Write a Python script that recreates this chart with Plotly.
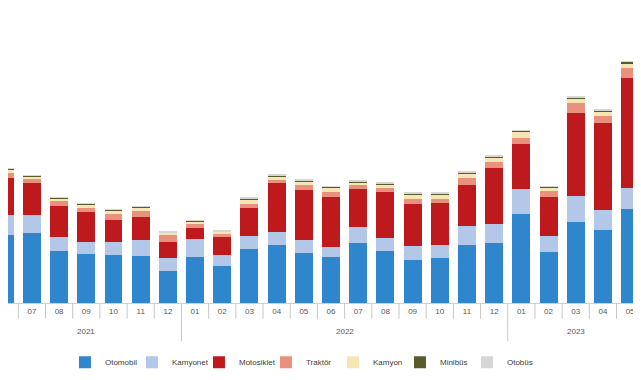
import plotly.graph_objects as go

years = ["2021"] * 7 + ["2022"] * 12 + ["2023"] * 5
months = ["06", "07", "08", "09", "10", "11", "12",
          "01", "02", "03", "04", "05", "06", "07", "08", "09", "10", "11", "12",
          "01", "02", "03", "04", "05"]

otomobil = [36400, 37500, 27800, 26200, 25700, 25100, 17100, 24600, 19800, 28900, 31000, 26800,
            24600, 32100, 27800, 23000, 24100, 31000, 32100, 47600, 27300, 43300, 39100, 50300]
kamyonet = [10700, 9600, 7500, 6400, 7000, 8600, 7000, 9600, 5900, 7000, 7000, 7000,
            5400, 8600, 7000, 7500, 7000, 10200, 10200, 13400, 8600, 13900, 10700, 11200]
motosiklet = [19800, 17100, 16600, 16100, 11800, 12300, 8600, 5900, 9600, 15000, 26200, 26800,
              26800, 20300, 24600, 22500, 22500, 21900, 30000, 24100, 20900, 44400, 46500, 58900]
traktor = [2700, 2100, 2700, 2100, 3200, 3200, 3700, 2100, 1600, 2100, 1600, 2700,
           2700, 2100, 2100, 2700, 2100, 3700, 3200, 3200, 3200, 5400, 3700, 5400]
kamyon = [1800, 1300, 1300, 1800, 1800, 1800, 1100, 1600, 1100, 2500, 2100, 1800,
          2200, 1600, 2100, 2500, 2500, 2500, 2500, 3200, 1800, 2500, 2500, 2500]
minibus = [500, 450, 420, 400, 380, 420, 380, 300, 350, 450, 500, 480,
           470, 480, 520, 470, 460, 520, 600, 550, 480, 620, 600, 650]
otobus = [300, 280, 260, 250, 240, 280, 250, 200, 220, 260, 300, 290,
          300, 310, 320, 290, 280, 330, 380, 350, 300, 400, 380, 420]

series = [
    ("Otomobil", otomobil, "#2f86cc"),
    ("Kamyonet", kamyonet, "#b3c8e8"),
    ("Motosiklet", motosiklet, "#be1a1d"),
    ("Traktör", traktor, "#e9917c"),
    ("Kamyon", kamyon, "#f6e6b4"),
    ("Minibüs", minibus, "#5a5b2c"),
    ("Otobüs", otobus, "#d6d6d6"),
]

keys = [f"{m}/{y}" for m, y in zip(months, years)]
x_start = 0.12  # first month (06/2021) is cut off at the left edge, as in the reference

fig = go.Figure()
for name, vals, col in series:
    fig.add_trace(go.Bar(x=keys, y=vals, name=name,
                         marker=dict(color=col, line=dict(width=0))))

# month tick labels (the cut-off first month shows no label)
tickvals = [k for i, k in enumerate(keys) if i >= 1]
ticktext = [m for i, m in enumerate(months) if i >= 1]

shapes = []
annotations = []
n = len(keys)
for i in range(1, n):
    year_break = years[i] != years[i - 1]
    shapes.append(dict(type="line", xref="x", yref="paper",
                       x0=i - 0.5, x1=i - 0.5, y0=0, y1=-0.145 if year_break else -0.06,
                       line=dict(color="#c8c8c8", width=1)))
# year group labels centred under their months
for yv in dict.fromkeys(years):
    idx = [i for i, y in enumerate(years) if y == yv]
    annotations.append(dict(x=sum(idx) / len(idx), xref="x", y=-0.085, yref="paper",
                            text=yv, showarrow=False, yanchor="top",
                            font=dict(size=8, color="#595959")))

fig.update_layout(
    barmode="stack",
    bargap=0.34,
    width=633, height=372,
    margin=dict(l=0, r=0, t=32, b=77),
    paper_bgcolor="white", plot_bgcolor="white",
    font=dict(family="Liberation Sans, Arial, sans-serif", size=8, color="#595959"),
    showlegend=True,
    legend=dict(orientation="h", x=0.09, xanchor="left", y=-0.17, yanchor="top",
                entrywidth=22, itemwidth=30, font=dict(size=8, color="#404040"),
                traceorder="normal"),
    shapes=shapes,
    annotations=annotations,
)
fig.update_xaxes(type="category", range=[x_start, n - 0.6],
                 tickmode="array", tickvals=tickvals, ticktext=ticktext,
                 showline=True, linecolor="#d0d0d0", linewidth=1,
                 ticks="", tickfont=dict(size=8, color="#595959"), showgrid=False)
fig.update_yaxes(range=[0, 140700], visible=False, showgrid=False)

fig.write_html("out.html")
